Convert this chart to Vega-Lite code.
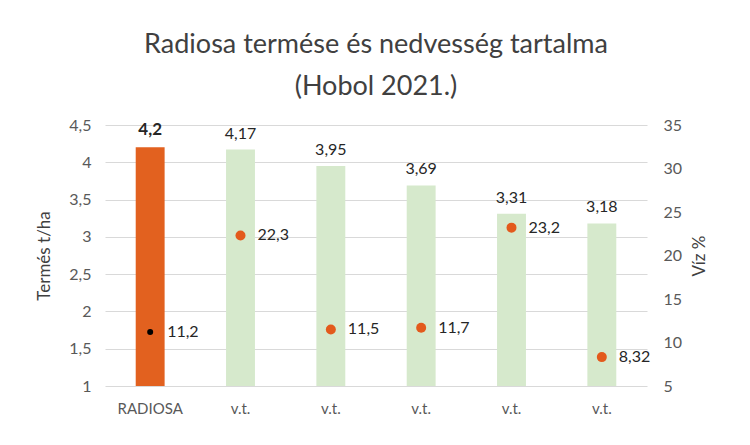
{
  "$schema": "https://vega.github.io/schema/vega-lite/v6.json",
  "width": 542,
  "height": 261,
  "autosize": "none",
  "padding": {"left": 105, "top": 125, "right": 103, "bottom": 59},
  "background": "white",
  "title": {
    "text": ["Radiosa termése és nedvesség tartalma", "(Hobol 2021.)"],
    "fontSize": 27,
    "font": "Lato",
    "fontWeight": "normal",
    "color": "#404040",
    "lineHeight": 42,
    "anchor": "middle",
    "offset": 16
  },
  "data": {
    "values": [
      {"id": "RADIOSA", "yield": 4.2, "water": 11.2, "main": true},
      {"id": "v.t. 1", "yield": 4.17, "water": 22.3, "main": false},
      {"id": "v.t. 2", "yield": 3.95, "water": 11.5, "main": false},
      {"id": "v.t. 3", "yield": 3.69, "water": 11.7, "main": false},
      {"id": "v.t. 4", "yield": 3.31, "water": 23.2, "main": false},
      {"id": "v.t. 5", "yield": 3.18, "water": 8.32, "main": false}
    ]
  },
  "encoding": {
    "x": {
      "field": "id",
      "type": "nominal",
      "sort": null,
      "scale": {"paddingInner": 0.68, "paddingOuter": 0.34},
      "axis": {
        "title": null,
        "labelAngle": 0,
        "labelExpr": "split(datum.label, ' ')[0]",
        "labelFontSize": 15,
        "labelFont": "Lato",
        "labelColor": "#595959",
        "labelPadding": 15,
        "domain": false,
        "ticks": false
      }
    }
  },
  "layer": [
    {
      "encoding": {
        "y": {
          "field": "yield",
          "type": "quantitative",
          "scale": {"domain": [1, 4.5], "zero": false, "nice": false},
          "axis": {
            "title": "Termés t/ha",
            "titleFont": "Lato",
            "titleFontSize": 17,
            "titleFontWeight": "normal",
            "titleColor": "#404040",
            "titlePadding": 15,
            "values": [1, 1.5, 2, 2.5, 3, 3.5, 4, 4.5],
            "labelOverlap": false,
            "format": ".1~f",
            "labelFont": "Lato",
            "labelFontSize": 16,
            "labelColor": "#595959",
            "labelPadding": 14,
            "domain": false,
            "ticks": false,
            "grid": true,
            "gridColor": "#d9d9d9",
            "gridWidth": 1
          }
        }
      },
      "layer": [
        {
          "mark": {"type": "bar"},
          "encoding": {
            "y2": {"datum": 1},
            "color": {
              "condition": {"test": "datum.main", "value": "#E2611F"},
              "value": "#D6E9CC"
            }
          }
        },
        {
          "transform": [{"filter": "datum.main"}],
          "mark": {"type": "text", "baseline": "bottom", "dy": -8, "fontSize": 17, "fontWeight": "bold", "font": "Lato", "color": "#262626"},
          "encoding": {
            "text": {"field": "yield", "type": "quantitative", "format": "~g"}
          }
        },
        {
          "transform": [{"filter": "!datum.main"}],
          "mark": {"type": "text", "baseline": "bottom", "dy": -8, "fontSize": 16, "font": "Lato", "color": "#262626"},
          "encoding": {
            "text": {"field": "yield", "type": "quantitative", "format": "~g"}
          }
        }
      ]
    },
    {
      "encoding": {
        "y": {
          "field": "water",
          "type": "quantitative",
          "scale": {"domain": [5, 35], "zero": false, "nice": false},
          "axis": {
            "orient": "right",
            "title": "Víz %",
            "titleAngle": 270,
            "titleBaseline": "top",
            "titleFont": "Lato",
            "titleFontSize": 17,
            "titleFontWeight": "normal",
            "titleColor": "#404040",
            "titlePadding": 10,
            "values": [5, 10, 15, 20, 25, 30, 35],
            "labelOverlap": false,
            "labelFont": "Lato",
            "labelFontSize": 16,
            "labelColor": "#595959",
            "labelPadding": 16,
            "domain": false,
            "ticks": false,
            "grid": false
          }
        }
      },
      "layer": [
        {
          "mark": {"type": "point", "filled": true, "opacity": 1},
          "encoding": {
            "color": {
              "condition": {"test": "datum.main", "value": "#000000"},
              "value": "#E35A1C"
            },
            "size": {
              "condition": {"test": "datum.main", "value": 36},
              "value": 100
            }
          }
        },
        {
          "mark": {"type": "text", "align": "left", "baseline": "middle", "dx": 17, "fontSize": 16, "font": "Lato", "color": "#262626"},
          "encoding": {
            "text": {"field": "water", "type": "quantitative", "format": "~g"}
          }
        }
      ]
    }
  ],
  "resolve": {"scale": {"y": "independent"}},
  "config": {
    "view": {"stroke": null},
    "locale": {
      "number": {"decimal": ",", "thousands": " ", "grouping": [3], "currency": ["", ""]}
    }
  }
}
